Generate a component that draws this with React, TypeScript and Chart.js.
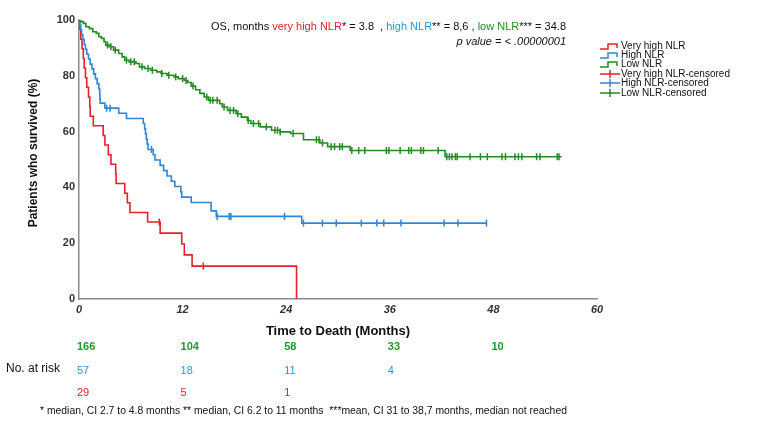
import React, { useEffect, useRef } from 'react';
import { Chart, registerables } from 'chart.js';

Chart.register(...registerables);

const FONT = '"Liberation Sans", Arial, sans-serif';

const RED = '#e8202a';
const BLUE = '#2f86d6';
const GREEN = '#248a24';
const BLUE_TXT = '#1e9be0';
const GREEN_TXT = '#1f9a2a';

// axis ticks
const xTicks = [0, 12, 24, 36, 48, 60];
const yTicks = [0, 20, 40, 60, 80, 100];

// Very high NLR (n = 29)
const veryHighTimes = [0, 0.1, 0.2, 0.35, 0.5, 0.6, 0.75, 0.9, 1.1, 1.25, 1.3, 1.66, 2.8, 3.0, 3.4, 3.7, 4.25, 4.3, 5.3, 5.6, 5.9, 7.95, 9.4, 11.9, 12.2, 13.1, 25.2];
const veryHighSurv = [100, 96.6, 93.1, 89.7, 86.2, 82.8, 79.3, 75.9, 72.4, 69.0, 65.5, 62.1, 58.6, 55.2, 51.7, 48.3, 44.8, 41.4, 37.9, 34.5, 31.0, 27.6, 23.6, 19.7, 15.8, 11.8, 0];
const veryHighCensor = [9.3, 14.4];

// High NLR (n = 57)
const highTimes = [0, 0.1, 0.2, 0.3, 0.45, 0.6, 0.75, 0.9, 1.1, 1.3, 1.5, 1.7, 1.9, 2.1, 2.3, 2.4, 2.42, 2.45, 3.0, 4.6, 5.5, 7.45, 7.6, 7.7, 7.8, 7.9, 8.0, 8.6, 8.8, 9.4, 9.8, 10.2, 10.7, 11.1, 11.8, 11.9, 13.0, 15.3, 15.9, 25.8, 47.2];
const highSurv = [100, 98.2, 96.5, 94.7, 93.0, 91.2, 89.5, 87.7, 86.0, 84.2, 82.5, 80.7, 79.0, 77.2, 75.4, 73.7, 71.9, 70.2, 68.4, 66.6, 64.7, 62.9, 61.0, 59.2, 57.3, 55.5, 53.6, 51.7, 49.8, 47.9, 46.0, 44.1, 42.2, 40.3, 38.4, 36.5, 34.6, 31.6, 29.6, 27.2, 27.2];
const highCensor = [3.2, 3.6, 8.4, 16.0, 17.4, 17.6, 23.8, 26.0, 28.2, 29.8, 32.7, 34.5, 35.3, 37.3, 42.3, 43.9, 47.2];

// Low NLR (n = 166)
const lowTimes = [0, 0.2, 0.5, 0.8, 1.2, 1.6, 2.0, 2.3, 2.6, 2.9, 3.1, 3.5, 4.0, 4.6, 5.0, 5.3, 5.8, 6.6, 7.0, 7.6, 8.3, 9.0, 9.5, 10.2, 11.0, 11.5, 12.2, 12.6, 13.0, 13.5, 14.0, 14.5, 15.0, 16.3, 16.6, 17.2, 18.2, 18.8, 19.5, 19.9, 21.0, 22.3, 23.3, 24.5, 26.0, 27.9, 28.8, 31.4, 42.4, 55.9];
const lowSurv = [100, 99.4, 98.8, 97.6, 96.9, 95.8, 95.2, 94.0, 93.4, 92.2, 91.0, 90.4, 89.2, 88.0, 86.8, 85.6, 85.0, 84.4, 83.2, 82.6, 82.0, 81.4, 80.8, 80.2, 79.6, 79.0, 78.3, 77.6, 76.3, 75.0, 73.7, 72.4, 71.2, 70.0, 68.8, 67.6, 66.4, 65.2, 64.0, 62.9, 61.7, 60.5, 59.9, 59.3, 57.1, 55.9, 54.6, 53.2, 51.0, 51.0];
const lowCensor = [3.3, 3.7, 4.2, 5.5, 6.0, 6.4, 7.3, 8.0, 8.5, 9.6, 10.4, 11.2, 12.0, 12.4, 13.2, 14.8, 15.2, 15.5, 16.0, 16.8, 17.5, 17.9, 18.4, 19.6, 20.2, 20.8, 21.7, 22.7, 23.0, 23.3, 24.8, 27.5, 27.8, 28.2, 29.2, 29.6, 30.2, 30.5, 31.6, 32.4, 33.1, 35.6, 35.9, 37.2, 38.2, 38.5, 39.6, 39.9, 41.6, 42.6, 42.9, 43.2, 43.6, 43.8, 45.3, 46.5, 47.3, 49.0, 49.4, 50.5, 50.9, 51.3, 53.0, 53.4, 55.4, 55.6];

// numbers at risk
const riskTimes = [0, 12, 24, 36, 48];
const lowRisk = [166, 104, 58, 33, 10];
const highRisk = [57, 18, 11, 4];
const veryHighRisk = [29, 5, 1];

const legendLabels = ['Very high NLR', 'High NLR', 'Low NLR', 'Very high NLR-censored', 'High NLR-censored', 'Low NLR-censored'];
const legendColors = [RED, BLUE, GREEN, RED, BLUE, GREEN];

const headerParts = [
  { text: 'OS, months ', color: '#111' },
  { text: 'very high NLR', color: RED },
  { text: '* = 3.8  , ', color: '#111' },
  { text: 'high NLR', color: BLUE_TXT },
  { text: '** = 8,6 , ', color: '#111' },
  { text: 'low NLR', color: GREEN },
  { text: '*** = 34.8', color: '#111' },
];
const pValueText = 'p value = < .00000001';
const yTitle = 'Patients who survived (%)';
const footnote = '* median, CI 2.7 to 4.8 months ** median, CI 6.2 to 11 months  ***mean, CI 31 to 38,7 months, median not reached';

function survAt(times: number[], surv: number[], t: number) {
  let s = surv[0];
  for (let i = 0; i < times.length; i++) if (times[i] <= t) s = surv[i];
  return s;
}
const pts = (times: number[], surv: number[]) => times.map((t, i) => ({ x: t, y: surv[i] }));
const cpts = (c: number[], times: number[], surv: number[]) => c.map((t) => ({ x: t, y: survAt(times, surv, t) }));

const overlay = {
  id: 'overlay',
  afterDraw(chart: any) {
    const ctx = chart.ctx;
    const xs = chart.scales.x;
    ctx.save();
    ctx.textBaseline = 'middle';
    // header
    ctx.font = `11px ${FONT}`;
    const total = headerParts.reduce((w, p) => w + ctx.measureText(p.text).width, 0);
    let hx = 566 - total;
    ctx.textAlign = 'left';
    for (const p of headerParts) {
      ctx.fillStyle = p.color;
      ctx.fillText(p.text, hx, 27);
      hx += ctx.measureText(p.text).width;
    }
    ctx.font = `italic 11px ${FONT}`;
    ctx.textAlign = 'right';
    ctx.fillStyle = '#111';
    ctx.fillText(pValueText, 566, 42);

    // y title
    ctx.save();
    ctx.translate(34, 153);
    ctx.rotate(-Math.PI / 2);
    ctx.textAlign = 'center';
    ctx.font = `bold 12px ${FONT}`;
    ctx.fillStyle = '#111';
    ctx.fillText(yTitle, 0, 0);
    ctx.restore();

    // legend
    ctx.font = `10px ${FONT}`;
    ctx.textAlign = 'left';
    const ly = [46, 55, 64, 74, 83, 93];
    legendLabels.forEach((lab, i) => {
      const y = ly[i];
      const x0 = 600;
      ctx.strokeStyle = legendColors[i];
      ctx.lineWidth = 1.5;
      ctx.beginPath();
      if (i < 3) {
        ctx.moveTo(x0, y + 3);
        ctx.lineTo(x0 + 8, y + 3);
        ctx.lineTo(x0 + 8, y - 2);
        ctx.lineTo(x0 + 17, y - 2);
        ctx.lineTo(x0 + 17, y + 2);
      } else {
        ctx.moveTo(x0, y);
        ctx.lineTo(x0 + 20, y);
        ctx.moveTo(x0 + 10, y - 4);
        ctx.lineTo(x0 + 10, y + 4);
      }
      ctx.stroke();
      ctx.fillStyle = '#111';
      ctx.fillText(lab, x0 + 21, y);
    });

    // numbers at risk
    const rows: [number[], string, number, string][] = [
      [lowRisk, GREEN_TXT, 347, 'bold '],
      [highRisk, BLUE_TXT, 371, ''],
      [veryHighRisk, RED, 393, ''],
    ];
    for (const [vals, col, y, w] of rows) {
      ctx.font = `${w}11px ${FONT}`;
      ctx.fillStyle = col;
      vals.forEach((v, i) => {
        ctx.fillText(String(v), xs.getPixelForValue(riskTimes[i]) - 2, y);
      });
    }
    ctx.font = `12px ${FONT}`;
    ctx.fillStyle = '#111';
    ctx.fillText('No. at risk', 6, 369);

    // footnote
    ctx.font = `11px ${FONT}`;
    const fw = ctx.measureText(footnote).width;
    const size = 11 * 527 / fw;
    ctx.font = `${size.toFixed(2)}px ${FONT}`;
    ctx.fillText(footnote, 40, 411);
    ctx.restore();
  },
};

export default function App() {
  const ref = useRef<HTMLCanvasElement>(null);
  useEffect(() => {
    if (!ref.current) return;
    const lineDs = (label: string, times: number[], surv: number[], color: string) => ({
      label,
      data: pts(times, surv),
      showLine: true,
      stepped: 'before' as const,
      borderColor: color,
      backgroundColor: color,
      borderWidth: 1.6,
      pointRadius: 0,
      fill: false,
    });
    const censDs = (label: string, c: number[], times: number[], surv: number[], color: string) => ({
      label,
      data: cpts(c, times, surv),
      showLine: false,
      pointStyle: 'line' as const,
      rotation: 90,
      pointRadius: 3.5,
      borderColor: color,
      backgroundColor: color,
      pointBorderWidth: 1.5,
      borderWidth: 1.5,
    });
    const chart = new Chart(ref.current, {
      type: 'scatter',
      data: {
        datasets: [
          lineDs('Low NLR', lowTimes, lowSurv, GREEN),
          lineDs('High NLR', highTimes, highSurv, BLUE),
          lineDs('Very high NLR', veryHighTimes, veryHighSurv, RED),
          censDs('Low NLR-censored', lowCensor, lowTimes, lowSurv, GREEN),
          censDs('High NLR-censored', highCensor, highTimes, highSurv, BLUE),
          censDs('Very high NLR-censored', veryHighCensor, veryHighTimes, veryHighSurv, RED),
        ],
      },
      options: {
        responsive: false,
        animation: false,
        layout: { padding: { left: 0, right: 170, top: 20, bottom: 0 } },
        plugins: { legend: { display: false }, tooltip: { enabled: false }, title: { display: false } },
        scales: {
          x: {
            type: 'linear',
            min: 0,
            max: 60,
            afterBuildTicks: (axis: any) => { axis.ticks = xTicks.map((v) => ({ value: v })); },
            afterFit: (axis: any) => { axis.height = 132; axis.paddingLeft = 0; axis.paddingRight = 0; },
            grid: { display: false, drawTicks: false },
            border: { display: true, color: '#8a8a8a', width: 1.5 },
            ticks: { padding: 4, color: '#333', font: { family: FONT, size: 11, style: 'italic', weight: 'bold' } },
            title: { display: true, text: 'Time to Death (Months)', color: '#111', font: { family: FONT, size: 13, weight: 'bold' }, padding: { top: 0, bottom: 92 } },
          },
          y: {
            type: 'linear',
            min: 0,
            max: 100,
            afterBuildTicks: (axis: any) => { axis.ticks = yTicks.map((v) => ({ value: v })); },
            afterFit: (axis: any) => { axis.width = 79; axis.paddingTop = 0; axis.paddingBottom = 0; },
            grid: { display: false, drawTicks: false },
            border: { display: true, color: '#8a8a8a', width: 1.5 },
            ticks: { padding: 4, color: '#333', font: { family: FONT, size: 11, weight: 'bold' } },
            title: { display: false },
          },
        },
      },
      plugins: [overlay],
    });
    return () => chart.destroy();
  }, []);
  return (
    <div style={{ position: 'absolute', left: 0, top: 0, width: 767, height: 431, background: '#fff' }}>
      <canvas ref={ref} width={767} height={431} />
    </div>
  );
}
